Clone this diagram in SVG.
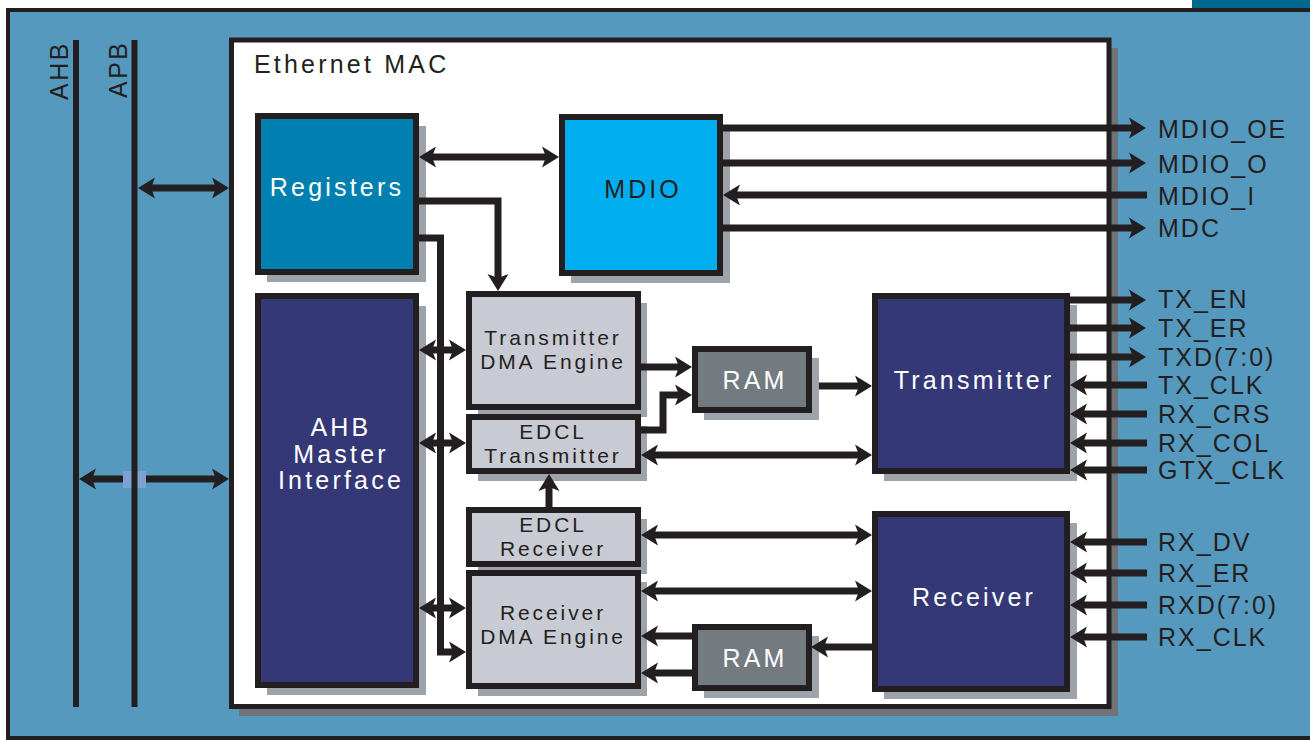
<svg xmlns="http://www.w3.org/2000/svg" width="1310" height="740" viewBox="0 0 1310 740">
<defs>
<style>
.bd{stroke:#231F20;stroke-width:6}
.sh{fill:#9EA3AA}
.reg{fill:#0080B1}
.mdio{fill:#00AEEF}
.dk{fill:#343877}
.lt{fill:#C8CBD3}
.ram{fill:#737A80}
.c{fill:none;stroke:#231F20;stroke-width:7;stroke-linejoin:miter}
.a{marker-end:url(#ah)}
.b{marker-start:url(#ah);marker-end:url(#ah)}
text{font-family:"Liberation Sans",Arial,sans-serif}
.big{font-size:25px;letter-spacing:3.2px;fill:#FFFFFF;text-anchor:middle}
.bigd{font-size:25px;letter-spacing:3px;fill:#231F20;text-anchor:middle}
.sm{font-size:21px;letter-spacing:2.9px;fill:#231F20;text-anchor:middle}
.sig{font-size:25px;letter-spacing:2px;fill:#231F20}
.bus{font-size:25px;letter-spacing:2.5px;fill:#231F20}
</style>
<marker id="ah" viewBox="-6 -11 19 22" markerWidth="19" markerHeight="22" refX="0" refY="0" orient="auto-start-reverse" markerUnits="userSpaceOnUse">
<path d="M12,0 L-5,-10.5 L-1,0 L-5,10.5 Z" fill="#231F20"/>
</marker>
</defs>

<rect x="0" y="0" width="1310" height="740" fill="#FFFFFF"/>
<rect x="1192" y="0" width="118" height="8" fill="#006A8E"/>
<rect x="8" y="10" width="1310" height="728" fill="#5699BE" stroke="#231F20" stroke-width="4"/>

<g id="ethernet-mac">
<rect x="239" y="48" width="879" height="668" fill="#6F7276"/>
<rect x="231.5" y="40" width="877.5" height="666.5" fill="#FFFFFF" stroke="#231F20" stroke-width="5"/>
<text x="254" y="73" class="bus" style="letter-spacing:3.2px">Ethernet MAC</text>
</g>

<g id="registers">
<rect x="267" y="126" width="159" height="156" class="sh"/>
<rect x="258" y="116" width="158" height="156" class="reg bd"/>
<text x="337" y="196" class="big">Registers</text>
</g>

<g id="mdio">
<rect x="571" y="126" width="159" height="157" class="sh"/>
<rect x="562" y="117" width="158" height="156" class="mdio bd"/>
<text x="643" y="198" class="bigd">MDIO</text>
</g>

<g id="ahb-master">
<rect x="267" y="306" width="159" height="389" class="sh"/>
<rect x="258" y="296" width="158" height="389" class="dk bd"/>
<text x="341" y="436" class="big">AHB</text>
<text x="341" y="463" class="big">Master</text>
<text x="341" y="489" class="big">Interface</text>
</g>

<g id="tx-dma">
<rect x="478" y="303" width="169" height="114" class="sh"/>
<rect x="469" y="294" width="169" height="113" class="lt bd"/>
<text x="553" y="345" class="sm">Transmitter</text>
<text x="553" y="369" class="sm">DMA Engine</text>
</g>

<g id="edcl-tx">
<rect x="478" y="426" width="169" height="55" class="sh"/>
<rect x="469" y="417" width="169" height="54" class="lt bd"/>
<text x="553" y="439" class="sm">EDCL</text>
<text x="553" y="463" class="sm">Transmitter</text>
</g>

<g id="edcl-rx">
<rect x="478" y="519" width="169" height="55" class="sh"/>
<rect x="469" y="510" width="169" height="54" class="lt bd"/>
<text x="553" y="532" class="sm">EDCL</text>
<text x="553" y="556" class="sm">Receiver</text>
</g>

<g id="rx-dma">
<rect x="478" y="582" width="169" height="114" class="sh"/>
<rect x="469" y="573" width="169" height="113" class="lt bd"/>
<text x="553" y="620" class="sm">Receiver</text>
<text x="553" y="644" class="sm">DMA Engine</text>
</g>

<g id="ram-tx">
<rect x="704" y="358" width="115" height="62" class="sh"/>
<rect x="695" y="349" width="114" height="61" class="ram bd"/>
<text x="755" y="389" class="big">RAM</text>
</g>

<g id="ram-rx">
<rect x="704" y="636" width="115" height="62" class="sh"/>
<rect x="695" y="627" width="114" height="61" class="ram bd"/>
<text x="755" y="667" class="big">RAM</text>
</g>

<g id="transmitter">
<rect x="884" y="305" width="193" height="176" class="sh"/>
<rect x="875" y="296" width="192" height="175" class="dk bd"/>
<text x="974" y="389" class="big">Transmitter</text>
</g>

<g id="receiver">
<rect x="884" y="523" width="193" height="176" class="sh"/>
<rect x="875" y="514" width="192" height="175" class="dk bd"/>
<text x="974" y="606" class="big">Receiver</text>
</g>

<g id="connectors">
<path class="c b" d="M150,188 H217"/>
<path class="c b" d="M91,479 H217"/>
<rect x="123" y="471" width="23" height="17" fill="#7DA0D5"/>
<path class="c b" d="M431,157 H547"/>
<path class="c a" d="M416,201 H498 V279"/>
<path class="c a" d="M416,238 H440.5 V652 H454"/>
<path class="c b" d="M431,350 H454"/>
<path class="c b" d="M431,443 H454"/>
<path class="c b" d="M431,608 H454"/>
<path class="c a" d="M549,507 V486"/>
<path class="c b" d="M653,455 H860"/>
<path class="c b" d="M653,535 H860"/>
<path class="c b" d="M653,591 H860"/>
<path class="c a" d="M638,367 H680"/>
<path class="c a" d="M638,430 H663 V395 H680"/>
<path class="c a" d="M819,386 H860"/>
<path class="c a" d="M872,647 H823"/>
<path class="c a" d="M692,636 H653"/>
<path class="c a" d="M692,673 H653"/>
<path class="c a" d="M720,128 H1134"/>
<path class="c a" d="M720,163 H1134"/>
<path class="c a" d="M1147,195 H735"/>
<path class="c a" d="M720,228 H1134"/>
<path class="c a" d="M1067,300 H1134"/>
<path class="c a" d="M1067,328 H1134"/>
<path class="c a" d="M1067,357 H1134"/>
<path class="c a" d="M1147,385 H1082"/>
<path class="c a" d="M1147,414 H1082"/>
<path class="c a" d="M1147,443 H1082"/>
<path class="c a" d="M1147,470 H1082"/>
<path class="c a" d="M1147,542 H1082"/>
<path class="c a" d="M1147,573 H1082"/>
<path class="c a" d="M1147,605 H1082"/>
<path class="c a" d="M1147,637 H1082"/>
</g>

<g id="buses">
<line x1="76" y1="40" x2="76" y2="707" stroke="#231F20" stroke-width="6"/>
<line x1="134.5" y1="40" x2="134.5" y2="707" stroke="#231F20" stroke-width="6"/>
<text class="bus" transform="translate(68,100) rotate(-90)">AHB</text>
<text class="bus" transform="translate(127,98) rotate(-90)">APB</text>
</g>

<g id="signals">
<text x="1158" y="138" class="sig">MDIO_OE</text>
<text x="1158" y="173" class="sig">MDIO_O</text>
<text x="1158" y="205" class="sig">MDIO_I</text>
<text x="1158" y="237" class="sig">MDC</text>
<text x="1158" y="308" class="sig">TX_EN</text>
<text x="1158" y="337" class="sig">TX_ER</text>
<text x="1158" y="366" class="sig">TXD(7:0)</text>
<text x="1158" y="394" class="sig">TX_CLK</text>
<text x="1158" y="423" class="sig">RX_CRS</text>
<text x="1158" y="452" class="sig">RX_COL</text>
<text x="1158" y="479" class="sig">GTX_CLK</text>
<text x="1158" y="551" class="sig">RX_DV</text>
<text x="1158" y="582" class="sig">RX_ER</text>
<text x="1158" y="614" class="sig">RXD(7:0)</text>
<text x="1158" y="646" class="sig">RX_CLK</text>
</g>
</svg>
